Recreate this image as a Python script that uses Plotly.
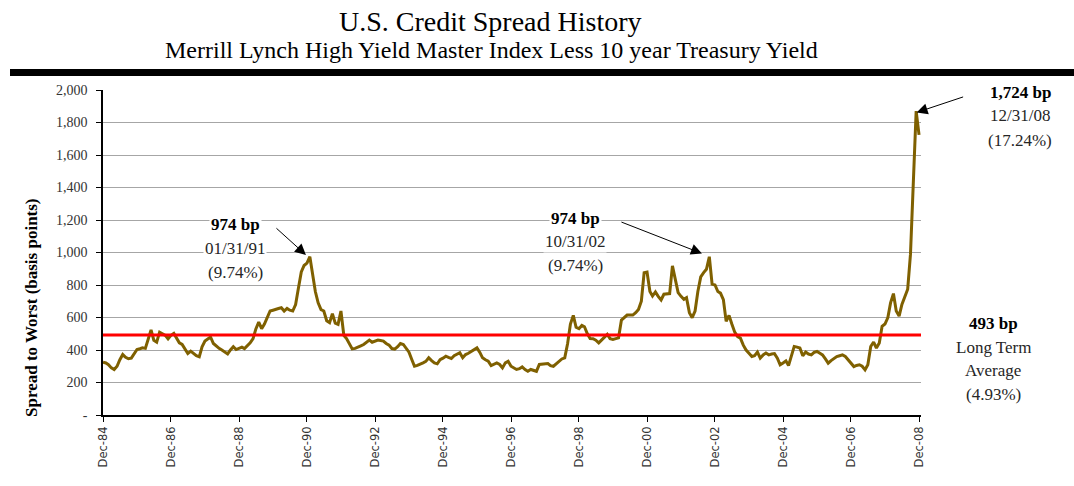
import pandas as pd
import plotly.graph_objects as go

# ---------------- data ----------------
start_month = "1984-12"
spread_bp = [
    325, 320, 310, 290, 280, 300, 340, 372, 355, 346, 350, 375,
    403, 408, 413, 410, 470, 523, 460, 448, 510, 500, 490, 469,
    490, 502, 470, 444, 434, 405, 378, 393, 380, 365, 358, 420,
    455, 469, 480, 440, 424, 410, 400, 390, 376, 400, 420, 403,
    410, 418, 409, 425, 444, 470, 530, 572, 531, 560, 600, 640,
    645, 648, 655, 660, 640, 656, 645, 640, 680, 780, 880, 920,
    935, 974, 860, 760, 690, 648, 640, 580, 568, 623, 565, 558,
    640, 490, 470, 440, 407, 410, 420, 425, 434, 450, 461, 448,
    455, 461, 458, 455, 440, 430, 409, 405, 420, 440, 434, 410,
    387, 340, 300, 305, 311, 321, 330, 352, 335, 321, 315, 340,
    350, 362, 355, 348, 365, 372, 383, 352, 372, 380, 393, 400,
    413, 385, 352, 340, 331, 304, 315, 321, 311, 290, 321, 331,
    300, 290, 280, 285, 296, 280, 269, 280, 275, 269, 311, 312,
    315, 317, 304, 300, 315, 331, 345, 352, 440, 560, 613, 540,
    531, 551, 543, 500, 470, 469, 460, 444, 460, 475, 496, 470,
    465, 470, 475, 584, 599, 615, 615, 615, 630, 650, 700, 876,
    880, 760, 732, 757, 730, 708, 743, 745, 747, 918, 840, 753,
    730, 712, 722, 630, 599, 640, 760, 850, 876, 897, 974, 805,
    800, 760, 750, 710, 576, 613, 560, 510, 483, 473, 430, 400,
    380, 360, 365, 387, 350, 370, 381, 370, 375, 378, 350, 309,
    320, 333, 304, 360, 422, 418, 412, 365, 387, 375, 370, 385,
    391, 380, 370, 345, 319, 335, 350, 360, 365, 370, 360, 340,
    320, 298, 305, 309, 300, 278, 309, 422, 449, 412, 443, 546,
    560, 600, 690, 747, 640, 609, 680, 730, 774, 990, 1450, 1870, 1724,
]
long_term_avg_bp = 493

y_tick_vals = [0, 200, 400, 600, 800, 1000, 1200, 1400, 1600, 1800, 2000]
y_tick_text = ["-", "200", "400", "600", "800", "1,000", "1,200", "1,400",
               "1,600", "1,800", "2,000"]
x_tick_dates = ["1984-12-31", "1986-12-31", "1988-12-31", "1990-12-31",
                "1992-12-31", "1994-12-31", "1996-12-31", "1998-12-31",
                "2000-12-31", "2002-12-31", "2004-12-31", "2006-12-31",
                "2008-12-31"]
x_tick_text = ["Dec-84", "Dec-86", "Dec-88", "Dec-90", "Dec-92", "Dec-94",
               "Dec-96", "Dec-98", "Dec-00", "Dec-02", "Dec-04", "Dec-06",
               "Dec-08"]

dates = pd.period_range(start_month, periods=len(spread_bp), freq="M") \
    .to_timestamp(how="end").normalize()

# ---------------- layout geometry ----------------
# the page's default 8px body margin is removed (see post_script below),
# so page pixels == figure pixels.
W, H = 1074, 486
PW, PH = 818, 325
L, T = 103, 90
R, B = W - L - PW, H - T - PH


def px(x):
    """page x pixel -> paper coord"""
    return (x - L) / PW


def py(y):
    """page y pixel -> paper coord"""
    return (T + PH - y) / PH


SERIF = "Liberation Serif, Times New Roman, serif"
SANS = "DejaVu Sans, Verdana, sans-serif"

fig = go.Figure()
fig.add_trace(go.Scatter(
    x=dates, y=spread_bp, mode="lines",
    line=dict(color="#7F6000", width=3),
    hoverinfo="x+y", showlegend=False,
))

shapes = [
    dict(type="line", xref="paper", yref="y", x0=0, x1=1,
         y0=long_term_avg_bp, y1=long_term_avg_bp,
         line=dict(color="#FF0000", width=3), layer="above"),
    dict(type="line", xref="paper", yref="paper", x0=px(10), x1=px(1080),
         y0=py(72.5), y1=py(72.5), line=dict(color="black", width=7)),
]

annotations = [
    dict(text="U.S. Credit Spread History", x=px(490), y=py(21),
         font=dict(family=SERIF, size=28, color="black")),
    dict(text="Merrill Lynch High Yield Master Index Less 10 year Treasury Yield",
         x=px(491), y=py(50), font=dict(family=SERIF, size=24, color="black")),
    dict(text="<b>Spread to Worst (basis points)</b>", x=px(31), y=py(308),
         textangle=-90, font=dict(family=SERIF, size=17, color="black")),
]


def text_block(lines, cx, ys, bg=True):
    out = []
    for i, (t, yy) in enumerate(zip(lines, ys)):
        out.append(dict(text=t, x=px(cx), y=py(yy),
                        font=dict(family=SERIF, size=17,
                                  color="black" if i == 0 else "#262626"),
                        bgcolor="white" if bg else None))
    return out


annotations += text_block(["<b>974 bp</b>", "01/31/91", "(9.74%)"], 235, [224, 248, 272])
annotations += text_block(["<b>974 bp</b>", "10/31/02", "(9.74%)"], 575, [218, 241, 265])
annotations += text_block(["<b>1,724 bp</b>", "12/31/08", "(17.24%)"], 1020, [92, 116, 140])
annotations += text_block(["<b>493 bp</b>", "Long Term", "Average", "(4.93%)"], 993,
                          [323, 347, 370, 394])

for a in annotations:
    a.setdefault("xref", "paper")
    a.setdefault("yref", "paper")
    a["showarrow"] = False
    a["xanchor"] = "center"
    a["yanchor"] = "middle"

arrows = [
    dict(x="1990-12-20", y=985, ax=-31, ay=-28),
    dict(x="2002-08-13", y=994, ax=-82, ay=-32),
    dict(x="2008-12-05", y=1862, ax=48, ay=-16),
]
for a in arrows:
    annotations.append(dict(xref="x", yref="y", text="", showarrow=True,
                            arrowhead=2, arrowsize=2.2, arrowwidth=1,
                            arrowcolor="black", axref="pixel", ayref="pixel",
                            **a))

fig.update_layout(
    width=W, height=H,
    margin=dict(l=L, r=R, t=T, b=B, pad=0),
    paper_bgcolor="white", plot_bgcolor="white",
    shapes=shapes, annotations=annotations,
    showlegend=False,
    xaxis=dict(
        type="date", range=["1984-12-31", "2009-01-21"],
        tickmode="array", tickvals=x_tick_dates, ticktext=x_tick_text,
        tickangle=-90, ticks="outside", ticklen=5, tickcolor="black",
        showline=True, linecolor="black", linewidth=1.5,
        showgrid=False, zeroline=False,
        tickfont=dict(family=SANS, size=11.5, color="#333333"),
    ),
    yaxis=dict(
        range=[0, 2000], tickmode="array", tickvals=y_tick_vals,
        ticktext=y_tick_text, ticks="outside", ticklen=5, tickcolor="black",
        showline=True, linecolor="black", linewidth=1.5,
        showgrid=True, gridcolor="#A6A6A6", gridwidth=1, zeroline=False,
        tickfont=dict(family=SERIF, size=14, color="#333333"),
        ticklabelstandoff=6,
    ),
)

fig.write_html(
    "out.html",
    config={"displayModeBar": False, "staticPlot": False},
    post_script="document.body.style.margin='0';"
                "document.body.style.overflow='hidden';",
)
